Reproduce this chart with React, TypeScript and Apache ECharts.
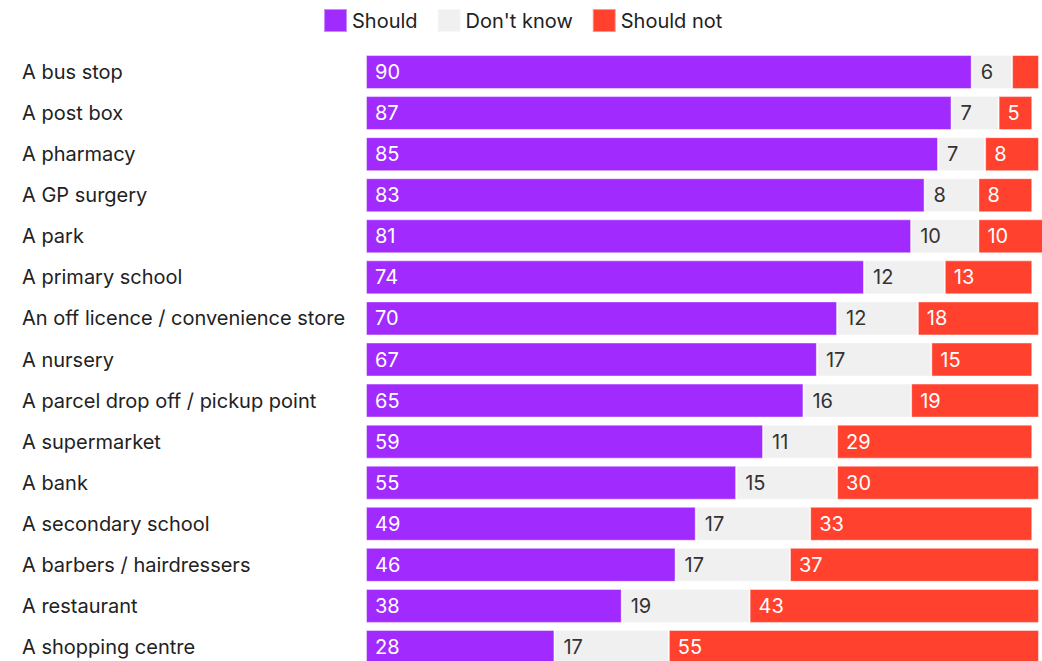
import React, { useEffect, useRef } from "react";
import * as echarts from "echarts";

const categories = [
  "A bus stop",
  "A post box",
  "A pharmacy",
  "A GP surgery",
  "A park",
  "A primary school",
  "An off licence / convenience store",
  "A nursery",
  "A parcel drop off / pickup point",
  "A supermarket",
  "A bank",
  "A secondary school",
  "A barbers / hairdressers",
  "A restaurant",
  "A shopping centre",
];
const shouldValues = [90, 87, 85, 83, 81, 74, 70, 67, 65, 59, 55, 49, 46, 38, 28];
const dontKnowValues = [6, 7, 7, 8, 10, 12, 12, 17, 16, 11, 15, 17, 17, 19, 17];
const shouldNotValues = [4, 5, 8, 8, 10, 13, 18, 15, 19, 29, 30, 33, 37, 43, 55];

const FONT = "Inter, 'Noto Sans', sans-serif";

export default function App() {
  const ref = useRef<HTMLDivElement>(null);
  useEffect(() => {
    document.body.style.margin = "0";
    if (!ref.current) return;
    const chart = echarts.init(ref.current, undefined, { renderer: "svg" });
    const labelBase = {
      show: true,
      position: "insideLeft",
      distance: 9,
      fontSize: 20,
      fontFamily: FONT,
    };
    const border = { borderColor: "rgba(255,255,255,0.45)", borderWidth: 1 };
    chart.setOption({
      animation: false,
      textStyle: { fontFamily: FONT },
      legend: {
        top: 3,
        left: 318,
        itemWidth: 23,
        itemHeight: 23,
        itemGap: 19,
        icon: "rect",
        textStyle: { fontSize: 20, color: "#222", fontFamily: FONT },
        data: ["Should", "Don't know", "Should not"],
      },
      grid: { left: 366, top: 51.5, right: 3, height: 616, containLabel: false },
      xAxis: {
        type: "value",
        min: 0,
        max: 100,
        show: false,
      },
      yAxis: {
        type: "category",
        data: categories,
        inverse: true,
        axisLine: { show: false },
        axisTick: { show: false },
        axisLabel: {
          align: "left",
          margin: 344,
          fontSize: 20,
          color: "#222",
          fontFamily: FONT,
        },
      },
      series: [
        {
          name: "Should",
          type: "bar",
          stack: "all",
          barWidth: 34,
          clip: false,
          itemStyle: { color: "#a12bff", ...border },
          label: { ...labelBase, color: "#fff" },
          data: shouldValues,
        },
        {
          name: "Don't know",
          type: "bar",
          stack: "all",
          barWidth: 34,
          clip: false,
          itemStyle: { color: "#f0f0f0", ...border },
          label: { ...labelBase, color: "#333" },
          data: dontKnowValues,
        },
        {
          name: "Should not",
          type: "bar",
          stack: "all",
          barWidth: 34,
          clip: false,
          itemStyle: { color: "#ff412e", ...border },
          label: { ...labelBase, color: "#fff" },
          data: shouldNotValues.map((v, i) =>
            i === 0 ? { value: v, label: { show: false } } : v
          ),
        },
      ],
    });
    return () => chart.dispose();
  }, []);
  return (
    <div style={{ width: 1042, height: 661, overflow: "hidden" }}>
      <div ref={ref} style={{ width: 1042, height: 670 }} />
    </div>
  );
}
